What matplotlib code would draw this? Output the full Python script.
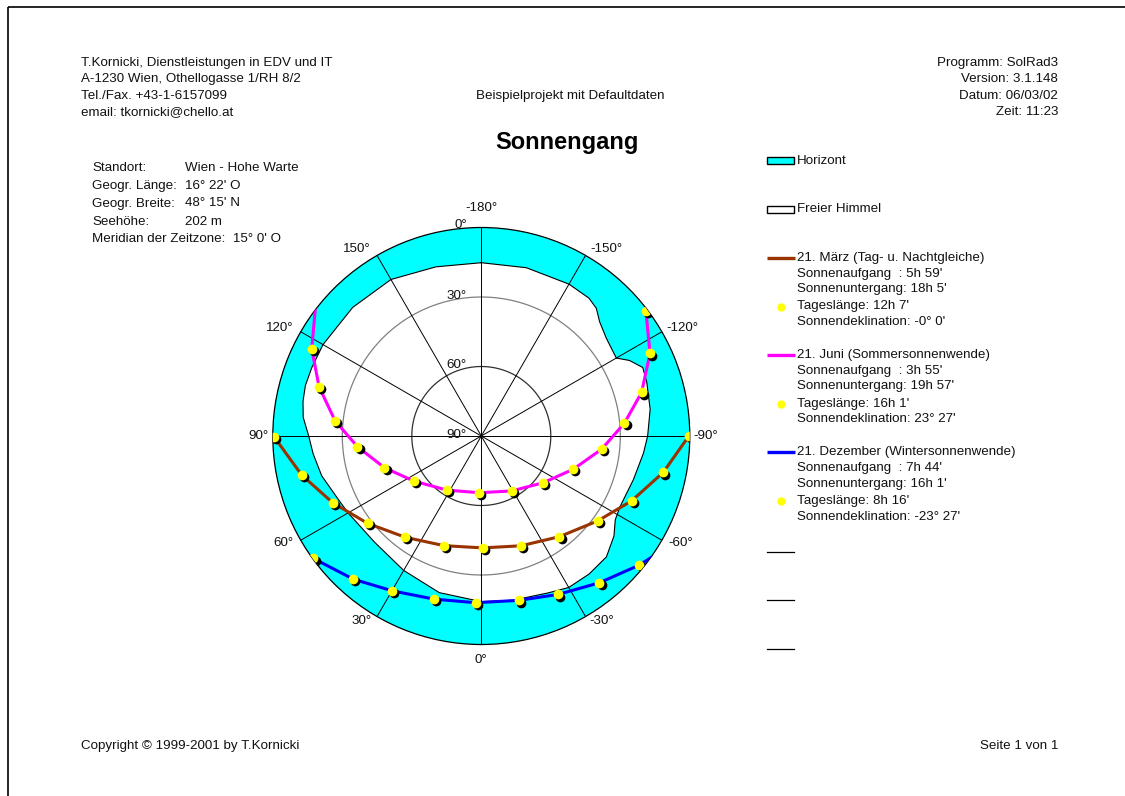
import numpy as np
import matplotlib
matplotlib.use("Agg")
import matplotlib.pyplot as plt
from matplotlib.patches import Rectangle
from matplotlib.transforms import offset_copy

plt.rcParams['font.family'] = ['Liberation Sans', 'DejaVu Sans']

# ---------------- data ----------------
# horizon profile (azimuth deg, 0 = south, +90 = left side; altitude deg)
hor_az = [-180, -165, -150, -142, -138, -134, -128, -120, -117, -113, -108, -99,
          -90, -84, -74, -63, -58, -53, -46, -38, -30, -23, -11, 0, 15, 30, 45,
          60, 66, 76, 84, 90, 96, 101, 106, 112, 120, 135, 150, 165, 180]
hor_alt = [15.2, 14.8, 14.3, 14.5, 15.8, 19.0, 21.5, 22.7, 18.2, 14.3, 14.9, 16.2,
           18.2, 19.6, 21.7, 22.8, 21.8, 18.3, 14.9, 14.4, 14.5, 16.4, 17.8, 18.5,
           20.0, 23.0, 25.0, 23.6, 22.5, 19.0, 17.0, 15.5, 12.7, 11.6, 11.0, 11.1,
           11.1, 11.5, 12.0, 14.4, 15.2]

# hourly sun positions
march_az = [89.8, 77.7, 65.8, 52.5, 37.0, 18.8, -0.7, -19.9, -37.8, -53.9, -66.7, -78.7, -90.1]
march_alt = [0.5, 10.7, 19.7, 28.1, 35.3, 40.0, 41.7, 39.6, 35.0, 27.8, 19.3, 9.9, 0.3]
march_rise_set_az = [89.8, -90.1]

june_az = [117.2, 106.9, 96.0, 85.1, 71.9, 56.2, 32.6, 2.3, -28.9, -53.0, -70.1,
           -83.8, -95.1, -105.2, -116.1, -127.3]
june_alt = [7.7, 16.8, 26.5, 36.3, 46.0, 55.0, 62.3, 65.5, 62.9, 56.5, 47.8, 37.7,
            28.0, 18.3, 8.9, 0.7]
june_rise_set_az = [127.2, -127.6]

dec_az = [53.9, 41.8, 29.9, 16.1, 1.9, -13.0, -25.9, -38.8, -50.8]
dec_alt = [0.3, 7.1, 12.9, 16.7, 18.0, 17.2, 14.0, 8.7, 1.9]
dec_rise_set_az = [54.0, -54.2]

azimuth_ticks = [180, 150, 120, 90, 60, 30, 0, -30, -60, -90, -120, -150]
azimuth_labels = ["-180°", "150°", "120°", "90°", "60°", "30°", "0°", "-30°", "-60°",
                  "-90°", "-120°", "-150°"]
altitude_ticks = [0, 30, 60, 90]
altitude_labels = ["0°", "30°", "60°", "90°"]

header_left = ["T.Kornicki, Dienstleistungen in EDV und IT",
               "A-1230 Wien, Othellogasse 1/RH 8/2",
               "Tel./Fax. +43-1-6157099",
               "email: tkornicki@chello.at"]
header_right = ["Programm: SolRad3", "Version: 3.1.148", "Datum: 06/03/02", "Zeit: 11:23"]
project = "Beispielprojekt mit Defaultdaten"
title = "Sonnengang"
site_labels = ["Standort:", "Geogr. Länge:", "Geogr. Breite:", "Seehöhe:"]
site_values = ["Wien - Hohe Warte", "16° 22' O", "48° 15' N", "202 m"]
meridian_line = "Meridian der Zeitzone:  15° 0' O"

series_names = ["21. März (Tag- u. Nachtgleiche)", "21. Juni (Sommersonnenwende)",
                "21. Dezember (Wintersonnenwende)"]
sunrise = ["5h 59'", "3h 55'", "7h 44'"]
sunset = ["18h 5'", "19h 57'", "16h 1'"]
daylength = ["12h 7'", "16h 1'", "8h 16'"]
declination = ["-0° 0'", "23° 27'", "-23° 27'"]
footer_left = "Copyright © 1999-2001 by T.Kornicki"
footer_right = "Seite 1 von 1"

# ---------------- styles ----------------
CYAN = "#00FFFF"
series_colors = ["#993300", "#FF00FF", "#0000FF"]
TXT = "#111111"
FS = 9.6

W, H = 1125, 796
fig = plt.figure(figsize=(W / 100, H / 100), dpi=100)
fig.patch.set_facecolor("white")

# page layer in pixel coordinates
lay = fig.add_axes([0, 0, 1, 1], zorder=0)
lay.set_xlim(0, W)
lay.set_ylim(H, 0)
lay.axis("off")

def t(x, y, s, **kw):
    kw.setdefault("fontsize", FS)
    kw.setdefault("color", TXT)
    kw.setdefault("va", "center")
    lay.text(x, y, s, **kw)

# frame lines
lay.plot([8, W], [7, 7], color="black", lw=1.2, solid_capstyle="butt")
lay.plot([8, 8], [7, H], color="black", lw=1.2, solid_capstyle="butt")

for i, s in enumerate(header_left):
    t(81, 63 + i * 16.3, s)
for i, s in enumerate(header_right):
    t(1058, 63 + i * 16.3, s, ha="right")
t(570, 96, project, ha="center")
t(567, 143, title, ha="center", fontsize=17, fontweight="bold", color="black")

site_y = [168, 186, 203.5, 222, 239.5]
for i, (lab, val) in enumerate(zip(site_labels, site_values)):
    t(92, site_y[i], lab)
    t(185, site_y[i], val)
t(92, site_y[4], meridian_line)

t(81, 746, footer_left)
t(1058, 746, footer_right, ha="right")

# legend
lay.add_patch(Rectangle((767, 157), 27, 7, facecolor=CYAN, edgecolor="black", lw=1))
t(797, 160.5, "Horizont")
lay.add_patch(Rectangle((767, 206), 27, 7, facecolor="white", edgecolor="black", lw=1))
t(797, 209.5, "Freier Himmel")
block_y = [257.5, 355, 452.3]
for i in range(3):
    y0 = block_y[i]
    lay.plot([767, 795], [y0, y0], color=series_colors[i], lw=2.4, solid_capstyle="butt")
    t(797, y0, series_names[i])
    t(797, y0 + 16, "Sonnenaufgang  : " + sunrise[i])
    t(797, y0 + 31.5, "Sonnenuntergang: " + sunset[i])
    lay.plot([781], [y0 + 49], "o", color="#FFFF00", ms=6, mew=0)
    t(797, y0 + 49, "Tageslänge: " + daylength[i])
    t(797, y0 + 64.5, "Sonnendeklination: " + declination[i])
for y0 in [551.7, 600, 649]:
    lay.plot([767, 794], [y0, y0], color="black", lw=0.9)

# ---------------- polar sun path diagram ----------------
cx, cy, R = 481.3, 436.0, 208.5
ax = fig.add_axes([(cx - R) / W, (H - cy - R) / H, 2 * R / W, 2 * R / H],
                  projection="polar", zorder=1)
ax.set_theta_zero_location("S")
ax.set_theta_direction(-1)
ax.set_ylim(0, 90)
ax.set_xticks([])
ax.set_yticks([])
ax.grid(False)
ax.set_facecolor(CYAN)
ax.spines["polar"].set_color("black")
ax.spines["polar"].set_linewidth(0.9)

def rr(alt):
    return 90 - np.asarray(alt, dtype=float)

th_h = np.radians(hor_az)
ax.fill(th_h, rr(hor_alt), color="white", zorder=1, lw=0)
ax.plot(th_h, rr(hor_alt), color="black", lw=0.8, zorder=2)

# grid
circ = np.linspace(0, 2 * np.pi, 361)
ax.plot(circ, np.full_like(circ, rr(30)), color="#808080", lw=0.9, zorder=2)
ax.plot(circ, np.full_like(circ, rr(60)), color="#303030", lw=0.9, zorder=2)
for az in azimuth_ticks:
    ax.plot([np.radians(az)] * 2, [0, 90], color="black", lw=0.7, zorder=2)

# labels
az_off = {180: (0, 19.5), 150: (-20, 6.4), 120: (-20.7, 3.7), 90: (-14.8, 0),
          60: (-17.7, -2.8), 30: (-15, -4.4), 0: (0, -15.5), -30: (16.5, -4.4),
          -60: (19, -2.8), -90: (16, 0), -120: (21, 3.7), -150: (20.5, 6.4)}
for az, lab in zip(azimuth_ticks, azimuth_labels):
    ax.annotate(lab, xy=(np.radians(az), 90), xytext=az_off[az], textcoords="offset pixels",
                ha="center", va="center", fontsize=FS, color=TXT, annotation_clip=False)
for alt, lab in zip(altitude_ticks, altitude_labels):
    ax.annotate(lab, xy=(np.pi, rr(alt)), xytext=(-14.5, 1 if alt else 2),
                textcoords="offset pixels", ha="right", va="center", fontsize=FS,
                color=TXT, annotation_clip=False, zorder=6)

# sun paths
shadow = offset_copy(ax.transData, fig=fig, x=2.2, y=-2.2, units="dots")
paths = [(march_az, march_alt, march_rise_set_az),
         (june_az, june_alt, june_rise_set_az),
         (dec_az, dec_alt, dec_rise_set_az)]
for (az, alt, rs), col in zip(paths, series_colors):
    line_az = [rs[0]] + list(az) + [rs[1]]
    line_alt = [0] + list(alt) + [0]
    ax.plot(np.radians(line_az), rr(line_alt), color=col, lw=2.2, zorder=3,
            solid_joinstyle="round")
    ax.plot(np.radians(az), rr(alt), "o", color="black", ms=7, mew=0, zorder=4,
            transform=shadow)
    ax.plot(np.radians(az), rr(alt), "o", color="#FFFF00", ms=7, mew=0, zorder=5)

fig.savefig("out.png", dpi=100)
